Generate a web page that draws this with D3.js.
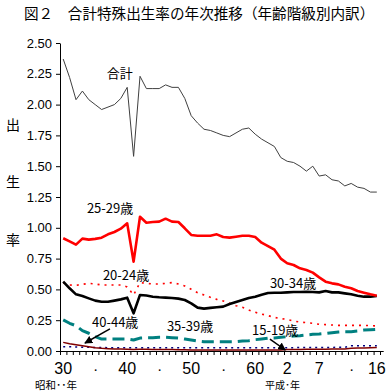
<!DOCTYPE html>
<html>
<head>
<meta charset="utf-8">
<script src="https://cdn.jsdelivr.net/npm/d3@7"></script>
<style>
  body { margin: 0; background: #fff; }
  svg { display: block; font-family: "Noto Sans CJK JP", sans-serif; }
</style>
</head>
<body>
<div id="chart"></div>
<script>
// years S30 (1955) .. H16 (2004)
var years = d3.range(1955, 2005);

var total = [2.37, 2.22, 2.04, 2.11, 2.04, 2.00, 1.96, 1.98, 2.00, 2.05,
  2.14, 1.58, 2.23, 2.13, 2.13, 2.13, 2.16, 2.14, 2.14, 2.05,
  1.91, 1.85, 1.80, 1.79, 1.77, 1.75, 1.74, 1.77, 1.80, 1.81,
  1.76, 1.72, 1.69, 1.66, 1.57, 1.54, 1.53, 1.50, 1.46, 1.50,
  1.42, 1.43, 1.39, 1.38, 1.34, 1.36, 1.33, 1.32, 1.29, 1.29];
var age15 = [0.035, 0.034, 0.032, 0.031, 0.030, 0.029, 0.028, 0.027, 0.027, 0.027,
  0.027, 0.026, 0.027, 0.027, 0.027, 0.027, 0.027, 0.027, 0.027, 0.027,
  0.027, 0.027, 0.027, 0.027, 0.027, 0.027, 0.027, 0.027, 0.027, 0.027,
  0.027, 0.027, 0.027, 0.027, 0.027, 0.027, 0.027, 0.028, 0.028, 0.028,
  0.028, 0.029, 0.029, 0.030, 0.030, 0.042, 0.043, 0.043, 0.043, 0.043];
var age20 = [0.555, 0.536, 0.533, 0.541, 0.549, 0.544, 0.536, 0.536, 0.536, 0.536,
  0.520, 0.455, 0.555, 0.549, 0.544, 0.544, 0.549, 0.555, 0.544, 0.528,
  0.501, 0.473, 0.455, 0.436, 0.419, 0.406, 0.387, 0.368, 0.355, 0.333,
  0.314, 0.300, 0.287, 0.273, 0.262, 0.257, 0.243, 0.235, 0.230, 0.225,
  0.217, 0.214, 0.211, 0.208, 0.208, 0.208, 0.208, 0.208, 0.206, 0.203];
var age25 = [0.915, 0.890, 0.863, 0.912, 0.904, 0.910, 0.920, 0.947, 0.966, 0.993,
  1.036, 0.725, 1.090, 1.041, 1.047, 1.050, 1.074, 1.050, 1.047, 0.996,
  0.942, 0.936, 0.936, 0.936, 0.947, 0.925, 0.920, 0.928, 0.936, 0.936,
  0.925, 0.879, 0.852, 0.822, 0.750, 0.712, 0.698, 0.671, 0.657, 0.636,
  0.598, 0.563, 0.549, 0.541, 0.522, 0.509, 0.487, 0.473, 0.460, 0.449];
var age30 = [0.563, 0.509, 0.460, 0.446, 0.427, 0.409, 0.400, 0.400, 0.409, 0.419,
  0.433, 0.306, 0.455, 0.450, 0.441, 0.436, 0.433, 0.430, 0.425, 0.414,
  0.387, 0.352, 0.344, 0.350, 0.355, 0.360, 0.381, 0.398, 0.414, 0.430,
  0.441, 0.457, 0.471, 0.473, 0.473, 0.476, 0.479, 0.479, 0.481, 0.479,
  0.476, 0.487, 0.476, 0.476, 0.468, 0.460, 0.449, 0.441, 0.441, 0.446];
var age35 = [0.252, 0.225, 0.205, 0.165, 0.144, 0.116, 0.097, 0.097, 0.097, 0.097,
  0.097, 0.089, 0.105, 0.107, 0.108, 0.111, 0.111, 0.108, 0.105, 0.097,
  0.089, 0.081, 0.076, 0.076, 0.076, 0.076, 0.076, 0.076, 0.081, 0.084,
  0.092, 0.097, 0.103, 0.105, 0.111, 0.116, 0.122, 0.124, 0.130, 0.135,
  0.138, 0.143, 0.149, 0.154, 0.157, 0.157, 0.162, 0.170, 0.173, 0.176];
var age40 = [0.070, 0.058, 0.050, 0.042, 0.034, 0.027, 0.022, 0.019, 0.017, 0.016,
  0.015, 0.012, 0.015, 0.014, 0.013, 0.013, 0.012, 0.012, 0.011, 0.010,
  0.009, 0.008, 0.008, 0.008, 0.008, 0.008, 0.008, 0.008, 0.008, 0.008,
  0.008, 0.008, 0.009, 0.009, 0.009, 0.012, 0.013, 0.013, 0.014, 0.014,
  0.015, 0.015, 0.016, 0.016, 0.016, 0.022, 0.024, 0.025, 0.026, 0.028];

var yTicks = [0, 0.25, 0.5, 0.75, 1, 1.25, 1.5, 1.75, 2, 2.25, 2.5];
var xLabelYears = [1955, 1960, 1965, 1970, 1975, 1980, 1985, 1990, 1995, 2000, 2004];
var xLabelTexts = ["30", "・", "40", "・", "50", "・", "60", "2", "7", "・", "16"];

// series label anchors [year, value]
var labelNames = ["合計", "25-29歳", "20-24歳", "30-34歳", "40-44歳", "35-39歳", "15-19歳"];
var labelPos = [[1961.8, 2.216], [1958.7, 1.12], [1961.2, 0.576], [1987.3, 0.511],
  [1959.5, 0.195], [1971.2, 0.162], [1984.5, 0.13]];
// arrows [fromYear, fromValue, toYear, toValue]
var arrows = [[1962.3, 0.179, 1958.4, 0.065], [1987.3, 0.097, 1989.7, 0.008]];

var W = 389, H = 392;
var svg = d3.select("#chart").append("svg").attr("width", W).attr("height", H);

var x = d3.scaleLinear().domain([1954.5, 2005]).range([60, 383.2]);
var y = d3.scaleLinear().domain([0, 2.5]).range([351, 43]);

svg.append("defs").append("marker")
  .attr("id", "arr").attr("viewBox", "0 0 10 10")
  .attr("refX", 9).attr("refY", 5)
  .attr("markerWidth", 8).attr("markerHeight", 8)
  .attr("markerUnits", "userSpaceOnUse")
  .attr("orient", "auto")
  .append("path").attr("d", "M0,0L10,5L0,10z").attr("fill", "#000");

// title
svg.append("text").attr("x", 24).attr("y", 19)
  .style("font-size", "14.6px").text("図２　合計特殊出生率の年次推移（年齢階級別内訳）");

// y axis
var yAxisG = svg.append("g").attr("transform", "translate(60,0)")
  .call(d3.axisLeft(y).tickValues(yTicks).tickFormat(d3.format(".2f")).tickSize(4).tickSizeOuter(0));
yAxisG.selectAll("text").style("font-size", "13px").attr("x", -8).attr("fill", "#000")
  .style("font-family", "'Liberation Sans', Arial, sans-serif");
yAxisG.selectAll("line, path").attr("stroke", "#000");

["出", "生", "率"].forEach(function (c, i) {
  svg.append("text").attr("x", 13).attr("y", [130, 187, 245][i])
    .attr("text-anchor", "middle").style("font-size", "14px").text(c);
});

// x axis, ticks between years
var xAxisG = svg.append("g").attr("transform", "translate(0,351)")
  .call(d3.axisBottom(x).tickValues(d3.range(1954.5, 2005, 1)).tickFormat("").tickSize(4).tickSizeOuter(0));
xAxisG.selectAll("line, path").attr("stroke", "#000");

svg.selectAll(".xl").data(xLabelYears).enter().append("text")
  .attr("class", "xl")
  .attr("x", function (d) { return x(d); }).attr("y", 374)
  .attr("text-anchor", "middle")
  .style("font-family", "'Liberation Sans', Arial, sans-serif")
  .style("font-size", function (d, i) { return xLabelTexts[i] == "・" ? "11px" : "16px"; })
  .text(function (d, i) { return xLabelTexts[i]; });

svg.append("text").attr("x", 35).attr("y", 389).style("font-size", "10.5px").text("昭和･･年");
svg.append("text").attr("x", 265).attr("y", 389).style("font-size", "10px").text("平成･年");

// lines
var series = [
  { v: total, color: "#404040", w: 1, dash: null },
  { v: age20, color: "#ff0000", w: 1.6, dash: "2,5" },
  { v: age30, color: "#000000", w: 2.6, dash: null },
  { v: age25, color: "#ff0000", w: 2.6, dash: null },
  { v: age35, color: "#008080", w: 3, dash: "12,6" },
  { v: age15, color: "#000080", w: 1.5, dash: "2,4" },
  { v: age40, color: "#800000", w: 1.5, dash: null }
];

series.forEach(function (s) {
  var line = d3.line()
    .x(function (d, i) { return x(years[i]); })
    .y(function (d) { return y(d); });
  svg.append("path").datum(s.v)
    .attr("d", line)
    .attr("fill", "none")
    .attr("stroke", s.color)
    .attr("stroke-width", s.w)
    .attr("stroke-dasharray", s.dash)
    .attr("stroke-linejoin", "round");
});

// labels
svg.selectAll(".lab").data(labelNames).enter().append("text")
  .attr("class", "lab")
  .attr("x", function (d, i) { return x(labelPos[i][0]); })
  .attr("y", function (d, i) { return y(labelPos[i][1]); })
  .style("font-size", "13px")
  .text(function (d) { return d; });

svg.selectAll(".arw").data(arrows).enter().append("line")
  .attr("class", "arw")
  .attr("x1", function (d) { return x(d[0]); }).attr("y1", function (d) { return y(d[1]); })
  .attr("x2", function (d) { return x(d[2]); }).attr("y2", function (d) { return y(d[3]); })
  .attr("stroke", "#000").attr("stroke-width", 1.5)
  .attr("marker-end", "url(#arr)");
</script>
</body>
</html>
